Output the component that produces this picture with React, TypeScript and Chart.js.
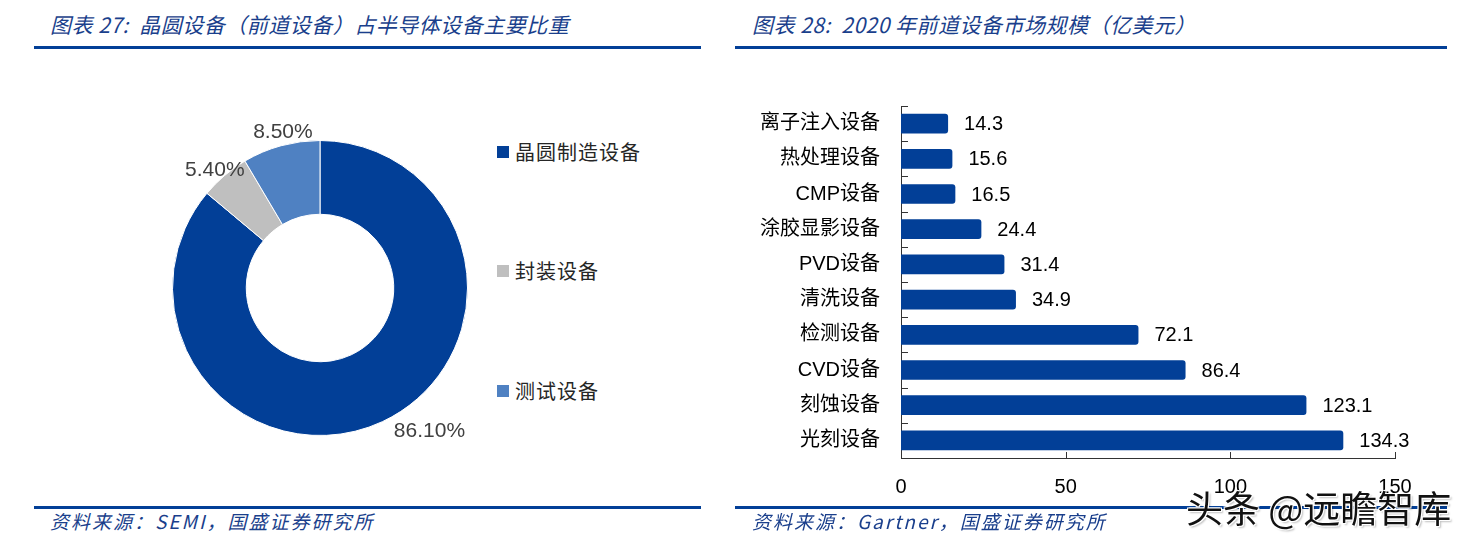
import React, { useEffect, useRef } from 'react';
import { Chart, registerables } from 'chart.js';

Chart.register(...registerables);

// ---------- data ----------
const shareLabels = ['晶圆制造设备', '封装设备', '测试设备'];
const shareValues = [86.1, 5.4, 8.5];
const shareColors = ['#023F97', '#BFBFBF', '#4F81C2'];

const equipCategories = [
  '离子注入设备',
  '热处理设备',
  'CMP设备',
  '涂胶显影设备',
  'PVD设备',
  '清洗设备',
  '检测设备',
  'CVD设备',
  '刻蚀设备',
  '光刻设备',
];
const equipValues = [14.3, 15.6, 16.5, 24.4, 31.4, 34.9, 72.1, 86.4, 123.1, 134.3];
const xTickValues = [0, 50, 100, 150];

const leftTitle = '图表 27:  晶圆设备（前道设备）占半导体设备主要比重';
const rightTitle = '图表 28:  2020 年前道设备市场规模（亿美元）';
const leftSource = '资料来源：SEMI，国盛证券研究所';
const rightSource = '资料来源：Gartner，国盛证券研究所';
const watermark = '头条 @远瞻智库';

const BLUE = '#023F97';
const TITLE_BLUE = '#1A3F8C';
const CJK = "'Noto Sans CJK SC', sans-serif";
const NUM = "'Liberation Sans', 'Noto Sans CJK SC', sans-serif";

// ---------- plugins ----------
const doughnutLabelPlugin = {
  id: 'doughnutLabelPlugin',
  afterDatasetsDraw(chart: any, _args: any, opts: any) {
    const ctx = chart.ctx;
    const meta = chart.getDatasetMeta(0);
    const values = chart.data.datasets[0].data as number[];
    ctx.save();
    ctx.font = opts.font;
    ctx.fillStyle = opts.color;
    ctx.textAlign = 'center';
    ctx.textBaseline = 'middle';
    meta.data.forEach((arc: any, i: number) => {
      const p = arc.getProps(['x', 'y', 'startAngle', 'endAngle', 'outerRadius'], true);
      const mid = (p.startAngle + p.endAngle) / 2;
      const r = p.outerRadius + opts.gap;
      const n = (opts.nudges && opts.nudges[i]) || [0, 0];
      const tx = p.x + Math.cos(mid) * r + n[0];
      const ty = p.y + Math.sin(mid) * r + n[1];
      ctx.fillText(values[i].toFixed(2) + '%', tx, ty);
    });
    ctx.restore();
  },
};

const barExtrasPlugin = {
  id: 'barExtrasPlugin',
  afterDatasetsDraw(chart: any, _args: any, opts: any) {
    const ctx = chart.ctx;
    const meta = chart.getDatasetMeta(0);
    const values = chart.data.datasets[0].data as number[];
    ctx.save();
    ctx.font = opts.font;
    ctx.fillStyle = opts.color;
    ctx.textAlign = 'left';
    ctx.textBaseline = 'middle';
    meta.data.forEach((bar: any, i: number) => {
      const p = bar.getProps(['x', 'y'], true);
      ctx.fillText(values[i].toFixed(1), p.x + opts.gap, p.y + 1);
    });
    ctx.restore();
  },
  afterDraw(chart: any, _args: any, opts: any) {
    const ctx = chart.ctx;
    const area = chart.chartArea;
    const xs = chart.scales.x;
    const ys = chart.scales.y;
    ctx.save();
    ctx.strokeStyle = opts.axisColor;
    ctx.lineWidth = 1;
    ctx.beginPath();
    const n = ys.ticks.length;
    const bounds: number[] = [area.top];
    for (let i = 0; i < n - 1; i++) {
      bounds.push((ys.getPixelForTick(i) + ys.getPixelForTick(i + 1)) / 2);
    }
    bounds.push(area.bottom);
    bounds.forEach((y) => {
      const yy = Math.round(y) + 0.5;
      ctx.moveTo(area.left, yy);
      ctx.lineTo(area.left + opts.tickLen, yy);
    });
    xTickValues.forEach((v) => {
      if (v === 0) return;
      const x = Math.round(xs.getPixelForValue(v)) + 0.5;
      ctx.moveTo(x, area.bottom);
      ctx.lineTo(x, area.bottom - opts.tickLen + 1);
    });
    ctx.stroke();
    ctx.restore();
  },
};

// ---------- charts ----------
function DonutChart() {
  const ref = useRef<HTMLCanvasElement | null>(null);
  useEffect(() => {
    if (!ref.current) return;
    const chart = new Chart(ref.current, {
      type: 'doughnut',
      data: {
        labels: shareLabels,
        datasets: [
          {
            data: shareValues,
            backgroundColor: shareColors,
            borderColor: '#ffffff',
            borderWidth: 1,
          },
        ],
      },
      options: {
        responsive: false,
        animation: false,
        cutout: '50%',
        layout: { padding: 22 },
        plugins: {
          legend: { display: false },
          tooltip: { enabled: false },
          doughnutLabelPlugin: {
            font: `21px ${NUM}`,
            color: '#404040',
            gap: 12,
            nudges: [[42, -1], [-2, 4], [5, -2]],
          },
        } as any,
      },
      plugins: [doughnutLabelPlugin],
    });
    return () => chart.destroy();
  }, []);
  return (
    <canvas
      ref={ref}
      width={340}
      height={340}
      style={{ position: 'absolute', left: 150, top: 118, width: 340, height: 340 }}
    />
  );
}

function BarChart() {
  const ref = useRef<HTMLCanvasElement | null>(null);
  useEffect(() => {
    if (!ref.current) return;
    const chart = new Chart(ref.current, {
      type: 'bar',
      data: {
        labels: equipCategories,
        datasets: [
          {
            data: equipValues,
            backgroundColor: BLUE,
            borderRadius: 3,
            borderSkipped: 'start',
            barPercentage: 0.56,
            categoryPercentage: 1,
          },
        ],
      },
      options: {
        indexAxis: 'y',
        responsive: false,
        animation: false,
        layout: { padding: { top: 16, right: 45, bottom: 7, left: 0 } },
        scales: {
          x: {
            min: 0,
            max: 150,
            afterBuildTicks: (scale: any) => {
              scale.ticks = xTickValues.map((v) => ({ value: v }));
            },
            afterFit: (scale: any) => {
              scale.height = 45;
              scale.paddingLeft = 0;
              scale.paddingRight = 0;
            },
            grid: { display: false, drawTicks: false },
            border: { display: true, color: '#333333', width: 1 },
            ticks: {
              padding: 17,
              color: '#000000',
              font: { family: NUM, size: 20 },
            },
          },
          y: {
            afterFit: (scale: any) => {
              scale.width = 161;
              scale.paddingTop = 0;
              scale.paddingBottom = 0;
            },
            grid: { display: false, drawTicks: false },
            border: { display: true, color: '#333333', width: 1 },
            ticks: {
              padding: 21,
              color: '#000000',
              font: { family: NUM, size: 20 },
            },
          },
        },
        plugins: {
          legend: { display: false },
          tooltip: { enabled: false },
          barExtrasPlugin: {
            font: `20px ${NUM}`,
            color: '#000000',
            gap: 16,
            axisColor: '#333333',
            tickLen: 7,
          },
        } as any,
      },
      plugins: [barExtrasPlugin],
    });
    return () => chart.destroy();
  }, []);
  return (
    <canvas
      ref={ref}
      width={700}
      height={420}
      style={{ position: 'absolute', left: 740, top: 90, width: 700, height: 420 }}
    />
  );
}

// ---------- page ----------
const abs = (s: React.CSSProperties): React.CSSProperties => ({ position: 'absolute', ...s });

export default function App() {
  const titleStyle: React.CSSProperties = {
    fontFamily: CJK,
    fontStyle: 'italic',
    fontSize: 21,
    lineHeight: '28px',
    color: TITLE_BLUE,
    whiteSpace: 'pre',
    letterSpacing: 0.5,
  };
  const sourceStyle: React.CSSProperties = {
    fontFamily: CJK,
    fontStyle: 'italic',
    fontSize: 19,
    lineHeight: '24px',
    color: TITLE_BLUE,
    whiteSpace: 'pre',
    letterSpacing: 2,
  };
  const legendY = [152, 271, 391];
  return (
    <div
      style={{
        position: 'fixed',
        left: 0,
        top: 0,
        width: 1473,
        height: 542,
        background: '#ffffff',
        overflow: 'hidden',
      }}
    >
      <div style={abs({ left: 50, top: 10, ...titleStyle })}>{leftTitle}</div>
      <div style={abs({ left: 752, top: 10, ...titleStyle })}>{rightTitle}</div>
      <div style={abs({ left: 34, top: 46, width: 667, height: 3, background: BLUE })} />
      <div style={abs({ left: 735, top: 46, width: 712, height: 3, background: BLUE })} />

      <DonutChart />
      {shareLabels.map((l, i) => (
        <div key={l}>
          <div
            style={abs({
              left: 497,
              top: legendY[i] - 6,
              width: 12,
              height: 12,
              background: shareColors[i],
            })}
          />
          <div
            style={abs({
              left: 515,
              top: legendY[i] - 14,
              fontFamily: CJK,
              fontSize: 20,
              lineHeight: '28px',
              letterSpacing: 1,
              color: '#262626',
              whiteSpace: 'pre',
            })}
          >
            {l}
          </div>
        </div>
      ))}

      <BarChart />

      <div style={abs({ left: 34, top: 506, width: 667, height: 3, background: BLUE })} />
      <div style={abs({ left: 735, top: 506, width: 712, height: 3, background: BLUE })} />
      <div style={abs({ left: 50, top: 509, ...sourceStyle })}>{leftSource}</div>
      <div style={abs({ left: 752, top: 509, ...sourceStyle })}>{rightSource}</div>

      <div
        style={abs({
          left: 1186,
          top: 482,
          fontFamily: CJK,
          fontSize: 37,
          lineHeight: '50px',
          color: '#111111',
          whiteSpace: 'pre',
          textShadow:
            '1px 1px 0 #fff, -1px -1px 0 #fff, 1px -1px 0 #fff, -1px 1px 0 #fff, 2px 2px 2px rgba(0,0,0,0.25)',
        })}
      >
        {watermark}
      </div>
    </div>
  );
}
